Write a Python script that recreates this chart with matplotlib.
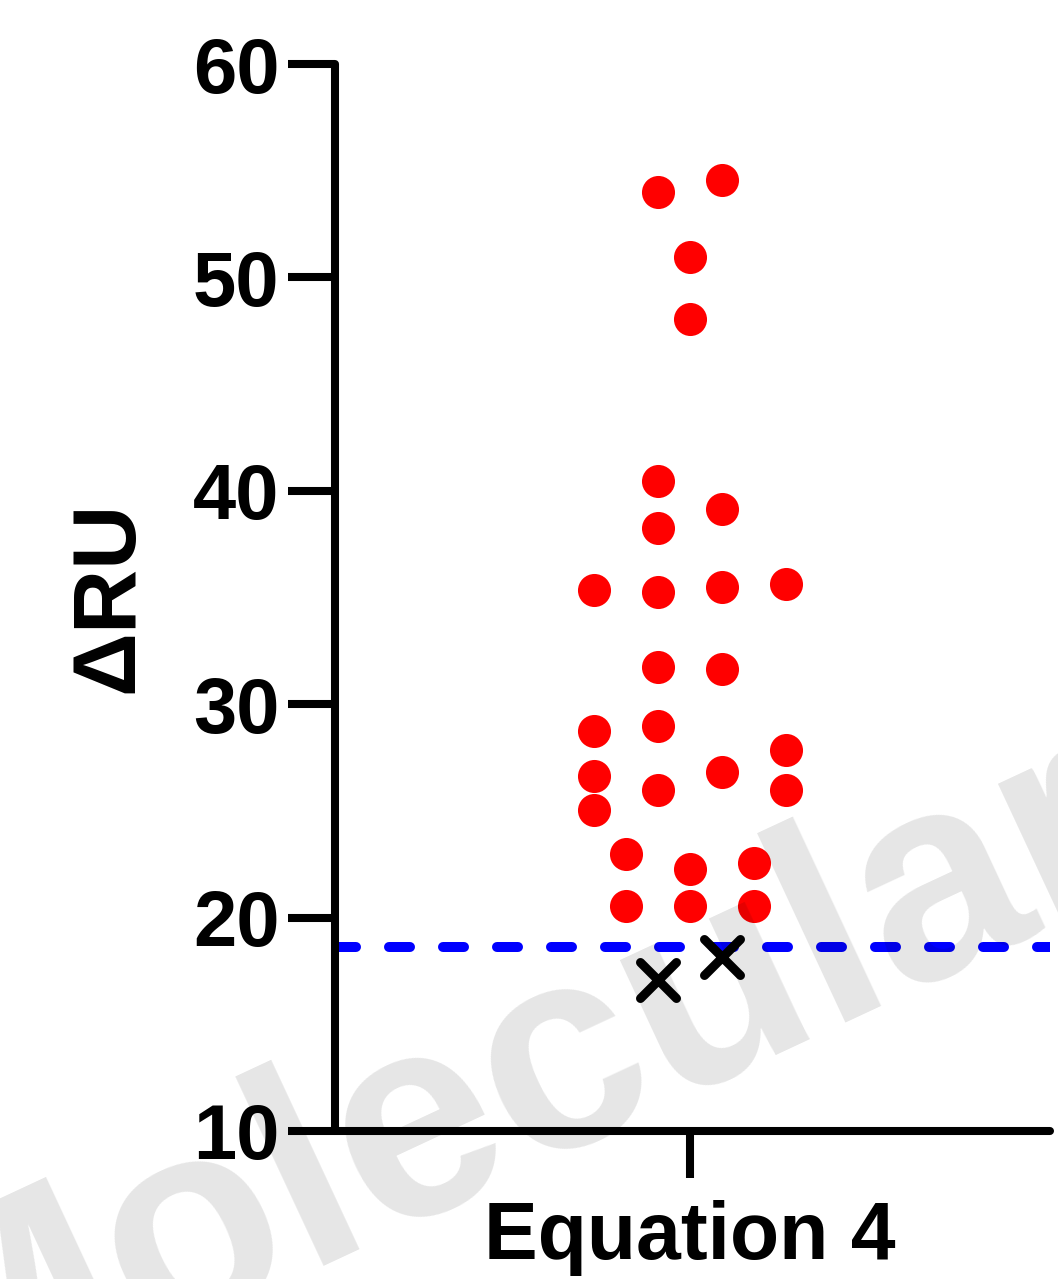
import matplotlib
matplotlib.use("Agg")
from matplotlib import pyplot as plt
from matplotlib.markers import MarkerStyle

plt.rcParams['font.family'] = ['Liberation Sans', 'DejaVu Sans']
plt.rcParams['font.weight'] = 'bold'

# included values (red dots) and their swarm column
dru = [54.0, 54.56, 50.96, 48.05, 40.46, 39.13, 38.24,
       35.35, 35.26, 35.47, 35.63, 31.76, 31.63,
       28.76, 28.96, 27.85, 26.64, 26.84, 25.97, 25.97, 25.04,
       22.98, 22.28, 22.56, 20.54, 20.54, 20.54]
col = [-1, 1, 0, 0, -1, 1, -1,
       -3, -1, 1, 3, -1, 1,
       -3, -1, 3, -3, 1, -1, 3, -3,
       -2, 0, 2, -2, 0, 2]

# excluded values (black crosses)
dru_out = [17.08, 18.15]
col_out = [-1, 1]

cutoff = 18.62
category = "Equation 4"
yticks = [10, 20, 30, 40, 50, 60]

step = 1 / 11.1  # column spacing in axis units

fig = plt.figure(figsize=(10.58, 12.79), dpi=100)
ax = fig.add_axes([335 / 1058, 1 - 1131 / 1279, 715 / 1058, 1067 / 1279])

ax.axhline(cutoff, color='#0000ff', lw=7.2, dashes=(2.1, 3.3),
           dash_capstyle='round', zorder=2)

ax.plot([c * step for c in col], dru, 'o', color='#ff0000', ms=23.8,
        mew=0, zorder=3, clip_on=False)
xm = MarkerStyle('x', capstyle='round')
ax.plot([c * step for c in col_out], dru_out, ls='none', marker=xm,
        color='black', ms=26.5, mew=6.5, zorder=4)

ax.set_xlim(-1, 1.0145)
ax.set_ylim(10, 60)
ax.set_yticks(yticks)
ax.set_xticks([0])
ax.set_xticklabels([category], fontsize=58, fontweight='bold')
ax.tick_params(axis='y', labelsize=56, length=34, width=5.8, pad=6)
ax.tick_params(axis='x', length=34, width=5.8, pad=16)

for s in ['top', 'right']:
    ax.spines[s].set_visible(False)
for s in ['left', 'bottom']:
    ax.spines[s].set_linewidth(5.8)
    ax.spines[s].set_capstyle('round')

ax.set_ylabel("ΔRU", fontsize=64, fontweight='bold')
ax.yaxis.set_label_coords(-0.257, 0.501)

# watermark
fig.text(-0.068, -0.127, "Molecular", fontsize=207, fontweight='bold',
         color='black', alpha=0.1, rotation=25, rotation_mode='anchor',
         ha='left', va='baseline', zorder=10)

fig.savefig("out.png", dpi=100)
